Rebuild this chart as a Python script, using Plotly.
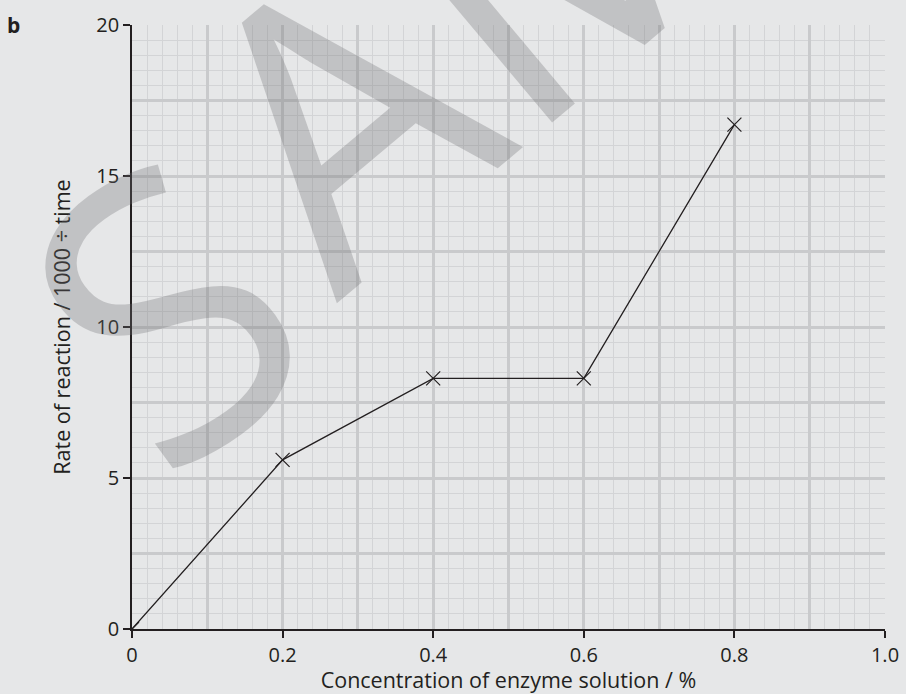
import plotly.graph_objects as go

# Data
concentration = [0, 0.2, 0.4, 0.6, 0.8]
rate = [0, 5.6, 8.3, 8.3, 16.7]
x_tick_vals = [0, 0.2, 0.4, 0.6, 0.8, 1.0]
x_tick_text = ["0", "0.2", "0.4", "0.6", "0.8", "1.0"]
y_tick_vals = [0, 5, 10, 15, 20]
y_tick_text = ["0", "5", "10", "15", "20"]

FONT = "Open Sans"
TXT = "#231f20"
BG = "#e6e7e8"
MINOR = "#d3d4d6"
MAJOR = "#c9cacc"
WM = "rgba(110,110,112,0.3)"

fig = go.Figure()
fig.add_trace(go.Scatter(
    x=concentration, y=rate, mode="lines+markers",
    line=dict(color=TXT, width=1.3),
    marker=dict(symbol="x-thin", size=14, line=dict(color=TXT, width=1.2)),
    showlegend=False, hoverinfo="skip",
))
# empty trace on overlay axes carrying the major graph-paper grid
fig.add_trace(go.Scatter(x=[], y=[], xaxis="x2", yaxis="y2",
                         showlegend=False, hoverinfo="skip"))

fig.update_layout(
    width=906, height=694,
    margin=dict(l=132, r=21, t=25, b=65),
    paper_bgcolor=BG, plot_bgcolor=BG,
    font=dict(family=FONT, color=TXT, size=20),
    xaxis=dict(
        range=[0, 1.0], tickvals=x_tick_vals, ticktext=x_tick_text,
        ticks="outside", ticklen=7, tickwidth=1.5, tickcolor=TXT,
        showline=True, linecolor=TXT, linewidth=1.8,
        showgrid=False, zeroline=False, automargin=False,
        minor=dict(dtick=0.02, tick0=0, showgrid=True, gridcolor=MINOR, gridwidth=1, ticks=""),
        tickfont=dict(size=20),
        title=dict(text="Concentration of enzyme solution / %", font=dict(size=21.5), standoff=10),
    ),
    yaxis=dict(
        range=[0, 20], tickvals=y_tick_vals, ticktext=y_tick_text,
        ticks="outside", ticklen=7, tickwidth=1.5, tickcolor=TXT,
        showline=True, linecolor=TXT, linewidth=1.8,
        showgrid=False, zeroline=False, automargin=False,
        minor=dict(dtick=0.5, tick0=0, showgrid=True, gridcolor=MINOR, gridwidth=1, ticks=""),
        tickfont=dict(size=20),
        title=dict(text="Rate of reaction / 1000 ÷ time", font=dict(size=21.5), standoff=20),
    ),
    xaxis2=dict(
        overlaying="x", anchor="y2", range=[0, 1.0], dtick=0.1, tick0=0,
        showgrid=True, gridcolor=MAJOR, gridwidth=3, zeroline=False,
        showticklabels=False, ticks="", showline=False, automargin=False,
    ),
    yaxis2=dict(
        overlaying="y", anchor="x2", range=[0, 20], dtick=2.5, tick0=0,
        showgrid=True, gridcolor=MAJOR, gridwidth=3, zeroline=False,
        showticklabels=False, ticks="", showline=False, automargin=False,
    ),
    annotations=[
        dict(text="<b>b</b>", xref="paper", yref="paper", x=-0.158, y=1.0,
             xanchor="center", yanchor="middle", showarrow=False,
             font=dict(size=21, color=TXT, family=FONT)),
        dict(text="S", xref="paper", yref="paper", x=0.036, y=0.538,
             xanchor="center", yanchor="middle", showarrow=False, textangle=-36,
             font=dict(size=385, color=WM, family=FONT)),
        dict(text="AMPLE", xref="paper", yref="paper", x=0.773, y=1.387,
             xanchor="center", yanchor="middle", showarrow=False, textangle=-40,
             font=dict(size=385, color=WM, family=FONT)),
    ],
)

fig.write_html("out.html")
